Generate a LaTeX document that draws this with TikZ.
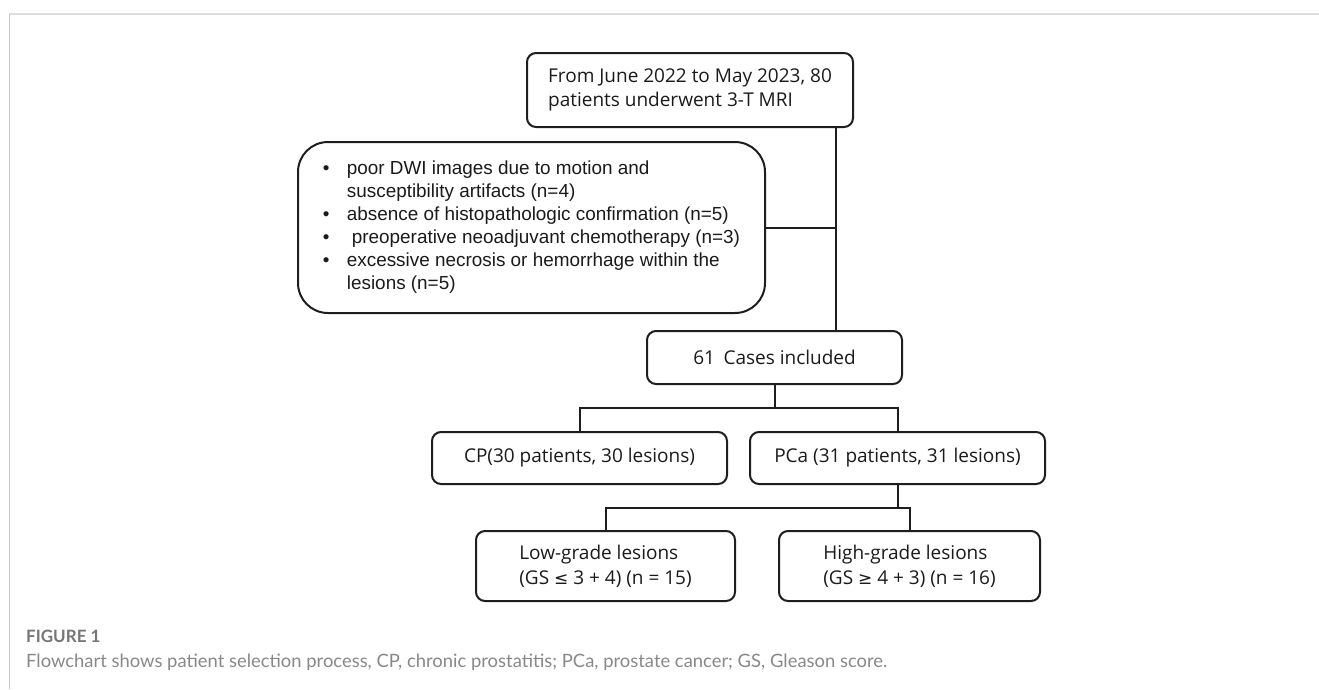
\documentclass[tikz,border=0pt]{standalone}
\usepackage{fontspec}
\setmainfont{Open Sans}
\newfontfamily\arialf{Liberation Sans}
\newfontfamily\capf{Lato}
\newfontfamily\symf{DejaVu Sans}
\definecolor{ln}{HTML}{1E1E1E}
\definecolor{txt}{HTML}{1A1A1A}
\definecolor{frametop}{HTML}{DDDDDD}
\definecolor{frameleft}{HTML}{C8C8C8}
\definecolor{capA}{HTML}{767676}
\definecolor{capB}{HTML}{888888}
\tikzset{
  box/.style={draw=ln, line width=2pt, rounded corners=9pt, inner sep=0pt, text=txt,
    font=\fontsize{19}{24}\selectfont, align=center},
  conn/.style={draw=ln, line width=2pt},
  framestyle/.style={line width=2.5pt, draw=frametop},
}
\begin{document}
\begin{tikzpicture}[x=1pt,y=-1pt]
\useasboundingbox (0,0) rectangle (1319,689);
% frame
\draw[framestyle] (9,14) -- (1319,14);
\draw[line width=1.5pt, draw=frameleft] (9.5,14) -- (9.5,689);

% boxes
\node[box, minimum width=326pt, minimum height=74pt, align=left] (top) at (690,90)
  {From June 2022 to May 2023, 80\\patients underwent 3-T MRI};
\node[box, rounded corners=30pt, minimum width=467pt, minimum height=171pt,
  font=\arialf\fontsize{18.9}{23}\selectfont] (excl) at (531.5,227.5)
  {\begin{tabular}{@{}p{24pt}@{}l@{}}
   \textbullet & poor DWI images due to motion and\\
    & susceptibility artifacts (n=4)\\
   \textbullet & absence of histopathologic confirmation (n=5)\\
   \textbullet & \hspace{5pt}preoperative neoadjuvant chemotherapy (n=3)\\
   \textbullet & excessive necrosis or hemorrhage within the\\
    & lesions (n=5)
   \end{tabular}};
\node[box, minimum width=255pt, minimum height=53pt] (c61) at (774.5,357.5)
  {61\hspace{0.45em}Cases included};
\node[box, minimum width=295pt, minimum height=52pt] (cp) at (579.5,458)
  {CP(30 patients, 30 lesions)};
\node[box, minimum width=295pt, minimum height=52pt] (pca) at (897.5,458)
  {PCa (31 patients, 31 lesions)};
\node[box, minimum width=259pt, minimum height=70pt, align=left,
  font=\fontsize{19}{25}\selectfont] (low) at (605.5,566)
  {Low-grade lesions\\(GS {\symf\fontsize{17}{17}\selectfont ≤} 3 + 4) (n = 15)};
\node[box, minimum width=261pt, minimum height=70pt, align=left,
  font=\fontsize{19}{25}\selectfont] (high) at (909.5,566)
  {High-grade lesions\\(GS {\symf\fontsize{17}{17}\selectfont ≥} 4 + 3) (n = 16)};

% helper coordinates
\coordinate (tx) at (836,0);
\coordinate (b1) at (0,408);
\coordinate (b2) at (0,508);

% connectors
\draw[conn] (top.south -| tx) -- (c61.north -| tx);
\draw[conn] (excl.east) -- (excl.east -| tx);
\draw[conn] (c61.south) -- (c61.south |- b1);
\draw[conn] (cp.north) -- (cp.north |- b1) -- (pca.north |- b1) -- (pca.north);
\draw[conn] (pca.south) -- (pca.south |- b2);
\draw[conn] (low.north) -- (low.north |- b2) -- (high.north |- b2) -- (high.north);

% caption
\node[anchor=base west, inner sep=0pt, text=capA, font=\capf\bfseries\fontsize{17}{17}\selectfont] (fig) at (26,642) {FIGURE 1};
\node[anchor=base west, inner sep=0pt, text=capB, font=\capf\fontsize{18.4}{18.4}\selectfont] (cap) at (26,667)
  {Flowchart shows patient selection process, CP, chronic prostatitis; PCa, prostate cancer; GS, Gleason score.};
\end{tikzpicture}
\end{document}
